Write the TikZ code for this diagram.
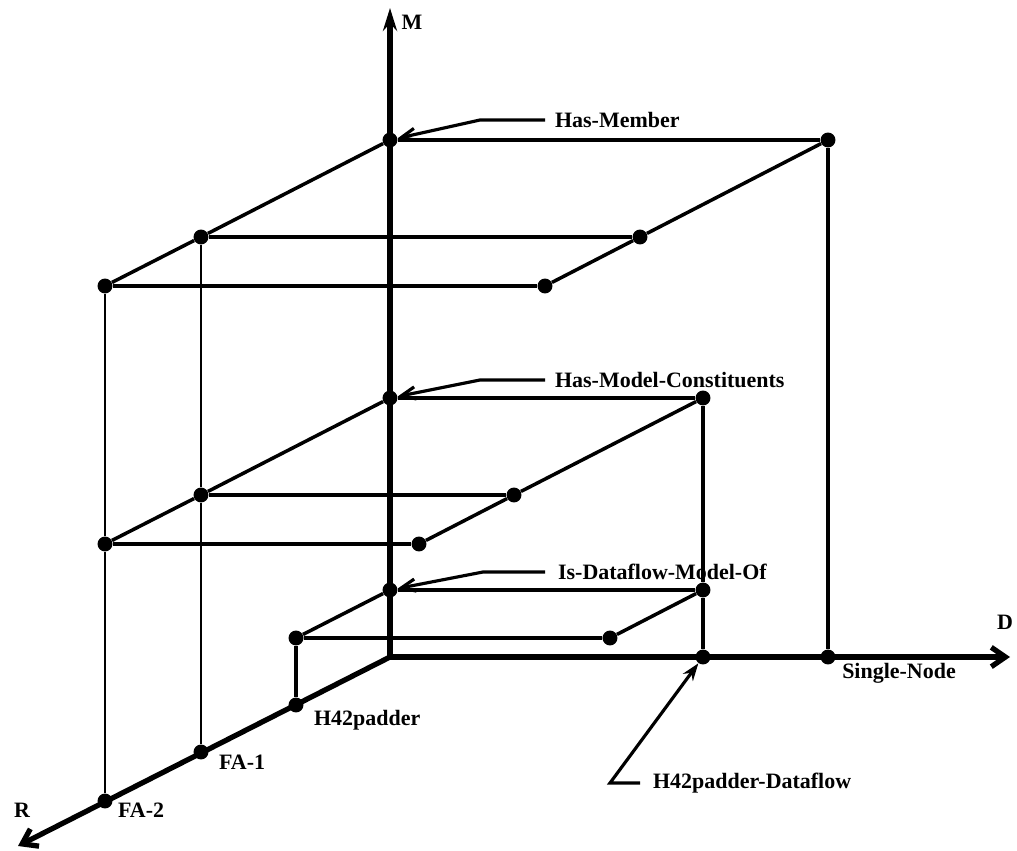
\documentclass[tikz,border=0pt]{standalone}
\usepackage{fontspec}
\setmainfont{Liberation Serif}
\usepackage{tikz}
\usetikzlibrary{arrows.meta,positioning,calc}

\begin{document}
\begin{tikzpicture}[x=0.02cm, y=-0.02cm, >=Stealth,
  dot/.style={circle, fill=black, inner sep=0pt, minimum size=8.5pt},
  axis/.style={line width=3pt},
  edge/.style={line width=2pt},
  drop/.style={line width=1.4pt},
  lead/.style={line width=1.8pt, -{Straight Barb[length=8pt,width=7pt]}},
  lbl/.style={font=\bfseries\fontsize{12.5}{14}\selectfont, inner sep=1pt}]
\useasboundingbox (0,0) rectangle (1017,851);

% axes
\coordinate (O) at (390,657);
\coordinate (Mtip) at (390,8);
\coordinate (Dtip) at (1010,657);
\coordinate (Rtip) at (18,846);

% dots
\foreach \n/\p in {mM/{390,140}, mC/{390,398}, mI/{390,590},
                   rP/{296,705}, rF1/{201,752}, rF2/{105,801},
                   dP/{703,657}, dS/{828,657},
                   t1/{201,237}, t2/{105,286}, tS/{828,140}, tS1/{640,237}, tS2/{545,286},
                   c1/{201,495}, c2/{105,544}, cP/{703,398}, cP1/{514,495}, cP2/{419,544},
                   b0/{296,638}, bP/{703,590}, bP0/{610,638}}
  \node[dot] (\n) at (\p) {};

\draw[axis, -{Stealth[length=13pt,width=8pt]}] (O) -- (Mtip);
\draw[axis, -{Straight Barb[length=8pt,width=11pt]}] (O) -- (Dtip);
\draw[axis, -{Straight Barb[length=8pt,width=11pt]}] (O) -- (Rtip);

% Has-Member level
\draw[edge] (mM) -- (tS);
\draw[edge] (t2) -- (t1) -- (mM);
\draw[edge] (t1) -- (tS1);
\draw[edge] (t2) -- (tS2);
\draw[edge] (tS2) -- (tS1) -- (tS);
\draw[edge] (tS) -- (dS);

% Has-Model-Constituents level
\draw[edge] (mC) -- (cP);
\draw[edge] (c2) -- (c1) -- (mC);
\draw[edge] (c1) -- (cP1);
\draw[edge] (c2) -- (cP2);
\draw[edge] (cP2) -- (cP1) -- (cP);
\draw[edge] (cP) -- (bP) -- (dP);

% Is-Dataflow-Model-Of level
\draw[edge] (mI) -- (bP);
\draw[edge] (b0) -- (mI);
\draw[edge] (b0) -- (bP0) -- (bP);
\draw[edge] (b0) -- (rP);

% drops to R
\draw[drop] (t1) -- (c1) -- (rF1);
\draw[drop] (t2) -- (c2) -- (rF2);

% axis labels
\node[lbl] (lM) at (412,22) {M};
\node[lbl] (lD) at (1005,622) {D};
\node[lbl] (lR) at (22,810) {R};

\node[lbl, anchor=west] (lP) at (312,720) {H42padder};
\node[lbl, anchor=west] (lF1) at (217,762) {FA-1};
\node[lbl, anchor=west] (lF2) at (116,810) {FA-2};
\node[lbl] (lS) at (899,673) {Single-Node};

% relation labels
\node[lbl, anchor=west] (lMem) at (553,120) {Has-Member};
\node[lbl, anchor=west] (lCon) at (553,380) {Has-Model-Constituents};
\node[lbl, anchor=west] (lIs) at (556,572) {Is-Dataflow-Model-Of};
\node[lbl, anchor=west] (lDf) at (651,783) {H42padder-Dataflow};

\coordinate (kMem) at (545,120);
\coordinate (kCon) at (545,380);
\coordinate (kIs) at (545,572);
\coordinate (kDf) at (640,783);
\draw[lead] (kMem) -- ++(-65,0) -- (mM);
\draw[lead] (kCon) -- ++(-65,0) -- (mC);
\draw[lead] (kIs) -- ++(-62,0) -- (mI);
\draw[line width=1.8pt, -{Stealth[length=10pt,width=7pt]}] (kDf) -- ++(-30,0) -- (dP);
\end{tikzpicture}
\end{document}
